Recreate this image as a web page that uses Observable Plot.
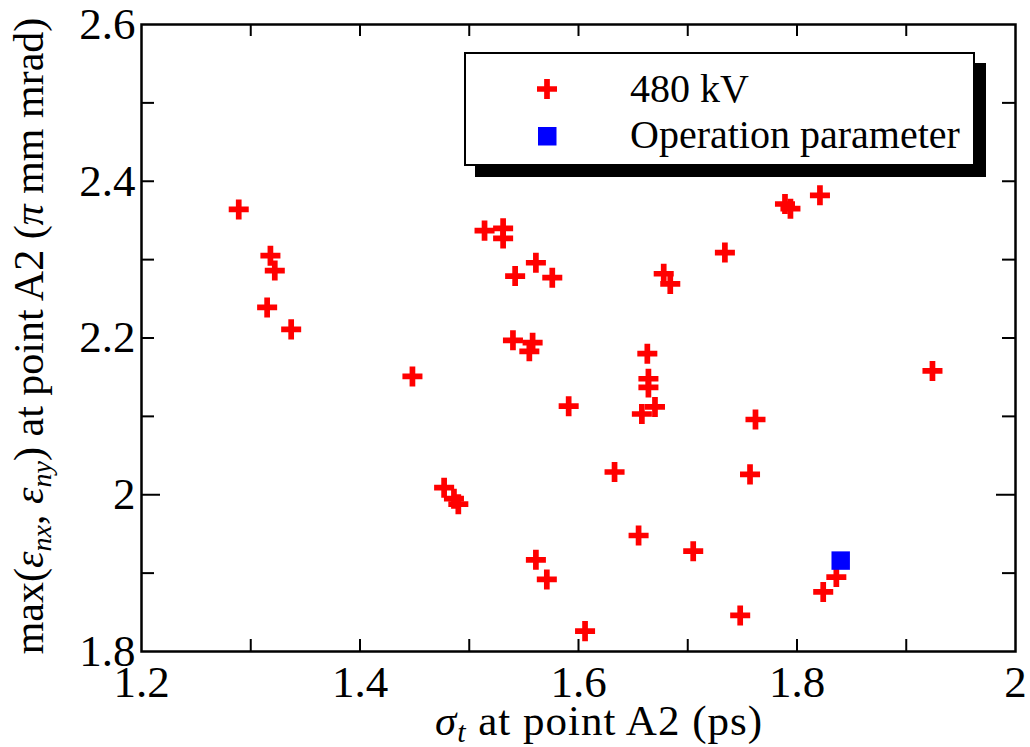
<!DOCTYPE html>
<html><head><meta charset="utf-8">
<script src="https://cdn.jsdelivr.net/npm/d3@7"></script>
<script src="https://cdn.jsdelivr.net/npm/@observablehq/plot@0.6"></script>
<style>
  body { margin: 0; background: #fff; }
  #wrap { position: relative; width: 1030px; height: 747px; }
  #wrap svg { display: block; }
  #wrap svg, #wrap text, #wrap tspan { font-family: 'Liberation Serif', 'DejaVu Serif', serif !important; }
  #legend { position: absolute; left: 464px; top: 52px; }
</style>
</head>
<body>
<div id="wrap"></div>
<script>
// ---- data ----
const xVals = [1.289, 1.318, 1.322, 1.315, 1.337, 1.514, 1.531, 1.531, 1.542, 1.561,
               1.576, 1.540, 1.558, 1.555, 1.448, 1.591, 1.561, 1.571, 1.606, 1.477,
               1.486, 1.490, 1.663, 1.664, 1.664, 1.670, 1.658, 1.789, 1.794, 1.821,
               1.678, 1.684, 1.836, 1.824, 1.734, 1.924, 1.762, 1.633, 1.757, 1.655,
               1.705, 1.748];
const yVals = [2.364, 2.305, 2.286, 2.239, 2.211, 2.337, 2.340, 2.327, 2.279, 2.296,
               2.277, 2.197, 2.194, 2.183, 2.151, 2.113, 1.917, 1.892, 1.826, 2.009,
               1.995, 1.988, 2.180, 2.148, 2.137, 2.112, 2.103, 2.371, 2.365, 2.382,
               2.282, 2.269, 1.895, 1.876, 2.309, 2.158, 2.096, 2.029, 2.026, 1.948,
               1.928, 1.846];
const opX = [1.840];
const opY = [1.916];
const seriesNames = ["480 kV", "Operation parameter"];
const xTickLabels = [1.2, 1.4, 1.6, 1.8, 2];
const xTicksAll = [1.3, 1.4, 1.5, 1.6, 1.7, 1.8, 1.9];
const yTickLabels = [1.8, 2, 2.2, 2.4, 2.6];
const yTicksShort = [1.9, 2.1, 2.2, 2.3, 2.4, 2.5];
const yTicksLong = [2];

// ---- layout ----
const W = 1030, H = 747;
const mL = 141, mR = 15, mT = 24, mB = 96;
const fw = W - mL - mR, fh = H - mT - mB;

const pts = xVals.map((x, i) => ({x, y: yVals[i]}));
const ops = opX.map((x, i) => ({x, y: opY[i]}));

const chart = Plot.plot({
  width: W, height: H,
  marginLeft: mL, marginRight: mR, marginTop: mT, marginBottom: mB,
  style: {fontSize: "45px", color: "#000", background: "#fff", overflow: "visible"},
  x: {domain: [1.2, 2.0]},
  y: {domain: [1.8, 2.6]},
  marks: [
    Plot.axisX(xTickLabels, {tickSize: 0, tickPadding: 14, tickFormat: d => String(d), label: null}),
    Plot.axisY(yTickLabels, {tickSize: 0, tickPadding: 6, tickFormat: d => String(d), label: null}),
    Plot.tickX(xTicksAll, {x: d => d, stroke: "#000", strokeWidth: 2, insetTop: fh - 12}),
    Plot.tickX(xTicksAll, {x: d => d, stroke: "#000", strokeWidth: 2, insetBottom: fh - 12}),
    Plot.tickY(yTicksShort, {y: d => d, stroke: "#000", strokeWidth: 2, insetRight: fw - 13}),
    Plot.tickY(yTicksShort, {y: d => d, stroke: "#000", strokeWidth: 2, insetLeft: fw - 13}),
    Plot.tickY(yTicksLong, {y: d => d, stroke: "#000", strokeWidth: 2, insetRight: fw - 19}),
    Plot.tickY(yTicksLong, {y: d => d, stroke: "#000", strokeWidth: 2, insetLeft: fw - 19}),
    Plot.frame({stroke: "#000", strokeWidth: 2.5}),
    Plot.dot(pts, {x: "x", y: "y", symbol: "plus", r: 6.5, stroke: "#ff0000", strokeWidth: 5.7}),
    Plot.dot(ops, {x: "x", y: "y", symbol: "square", r: 10.4, fill: "#0000ff", stroke: "none"})
  ]
});

document.getElementById("wrap").appendChild(chart);

// ---- axis titles (with italic Greek and subscripts) ----
const svg = d3.select(chart);
const xl = svg.append("text")
  .attr("x", 599).attr("y", 735).attr("text-anchor", "middle")
  .attr("font-size", 43).attr("letter-spacing", 1).attr("fill", "#000");
xl.append("tspan").attr("font-style", "italic").text("σ");
xl.append("tspan").attr("font-style", "italic").attr("font-size", 30).attr("dy", 7).text("t");
xl.append("tspan").attr("dy", -7).text(" at point A2 (ps)");

const yl = svg.append("text")
  .attr("transform", "translate(43,336) rotate(-90)")
  .attr("text-anchor", "middle")
  .attr("font-size", 42).attr("fill", "#000");
yl.append("tspan").text("max(");
yl.append("tspan").attr("font-style", "italic").text("ε");
yl.append("tspan").attr("font-style", "italic").attr("font-size", 28).attr("dy", 8).text("nx");
yl.append("tspan").attr("dy", -8).text(", ");
yl.append("tspan").attr("font-style", "italic").text("ε");
yl.append("tspan").attr("font-style", "italic").attr("font-size", 28).attr("dy", 8).text("ny");
yl.append("tspan").attr("dy", -8).text(") at point A2 (");
yl.append("tspan").attr("font-style", "italic").text("π");
yl.append("tspan").text(" mm mrad)");

// ---- legend (boxed with drop shadow) ----
const lg = d3.select("#wrap").append("svg")
  .attr("id", "legend").attr("width", 526).attr("height", 128);
lg.append("rect").attr("x", 11).attr("y", 11).attr("width", 511).attr("height", 114).attr("fill", "#000");
lg.append("rect").attr("x", 1).attr("y", 1).attr("width", 509).attr("height", 112)
  .attr("fill", "#fff").attr("stroke", "#000").attr("stroke-width", 2);
const rows = lg.selectAll("g.row").data(seriesNames).join("g").attr("class", "row");
rows.append("text")
  .attr("x", 166).attr("y", (d, i) => i === 0 ? 50 : 96)
  .attr("text-anchor", "start")
  .attr("font-size", 40).attr("fill", "#000")
  .text(d => d);
// swatches
lg.append("path").attr("d", "M73,37H93M83,27V47").attr("stroke", "#ff0000").attr("stroke-width", 5.7).attr("fill", "none");
lg.append("rect").attr("x", 74).attr("y", 75).attr("width", 18.5).attr("height", 18.5).attr("fill", "#0000ff");
</script>
</body></html>
